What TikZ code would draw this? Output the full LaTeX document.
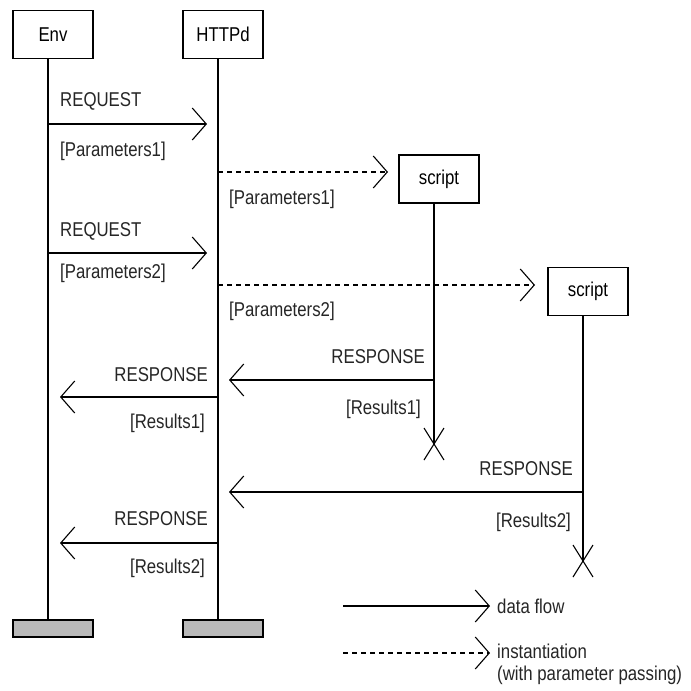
\documentclass[tikz,border=0pt]{standalone}
\usepackage{fontspec}
\setmainfont{Liberation Sans}[FakeStretch=0.84]
\usetikzlibrary{arrows.meta,calc}
\begin{document}
\begin{tikzpicture}[x=1pt,y=-1pt,
  lbl/.style={font=\fontsize{20}{22}\selectfont, inner sep=0pt, text=black!85},
  obj/.style={draw, line width=1.4pt, minimum width=80pt, minimum height=48pt,
    inner sep=0pt, font=\fontsize{20}{22}\selectfont},
  endbar/.style={draw, line width=1.4pt, fill=gray!55, minimum width=80pt,
    minimum height=17pt, inner sep=0pt},
  life/.style={line width=1.2pt},
  msg/.style={line width=1.3pt,
    -{Straight Barb[length=14pt,width=32pt,line width=1.1pt]}},
  inst/.style={msg, dash pattern=on 5pt off 4pt},
  kill/.style={line width=1.1pt}
]
\useasboundingbox[fill=white] (0,0) rectangle (691,691);

% objects
\node[obj] (env)   at (53,34.5)   {Env};
\node[obj] (httpd) at (223,34.5)  {HTTPd};
\node[obj] (scr1)  at (439,179)   {script};
\node[obj] (scr2)  at (588,291.5) {script};
\node[endbar] (envEnd)   at (53,628.5)  {};
\node[endbar] (httpdEnd) at (223,628.5) {};

% lifelines
\coordinate (envTop)   at (48,58.5);
\coordinate (envBot)   at (48,620);
\coordinate (httpdTop) at (218,58.5);
\coordinate (httpdBot) at (218,620);
\coordinate (s1Top)    at (434,203);
\coordinate (s1Kill)   at (434,444);
\coordinate (s2Top)    at (583,315.5);
\coordinate (s2Kill)   at (583,561);
\draw[life] (envTop) -- (envBot);
\draw[life] (httpdTop) -- (httpdBot);
\draw[life] (s1Top) -- (s1Kill);
\draw[life] (s2Top) -- (s2Kill);

% terminations
\draw[kill] ($(s1Kill)+(-10,-16)$) -- ($(s1Kill)+(10,16)$)
            ($(s1Kill)+(10,-16)$) -- ($(s1Kill)+(-10,16)$);
\draw[kill] ($(s2Kill)+(-10,-16)$) -- ($(s2Kill)+(10,16)$)
            ($(s2Kill)+(10,-16)$) -- ($(s2Kill)+(-10,16)$);

% messages
\coordinate (q1a) at (48,124);   \coordinate (q1b) at (207,124);
\coordinate (i1a) at (218,172);  \coordinate (i1b) at (388,172);
\coordinate (q2a) at (48,253);   \coordinate (q2b) at (207,253);
\coordinate (i2a) at (218,285);  \coordinate (i2b) at (535,285);
\coordinate (p1a) at (434,380);  \coordinate (p1b) at (229,380);
\coordinate (e1a) at (218,397);  \coordinate (e1b) at (60,397);
\coordinate (p2a) at (583,492);  \coordinate (p2b) at (229,492);
\coordinate (e2a) at (218,543);  \coordinate (e2b) at (60,543);
\draw[msg]  (q1a) -- (q1b);
\draw[inst] (i1a) -- (i1b);
\draw[msg]  (q2a) -- (q2b);
\draw[inst] (i2a) -- (i2b);
\draw[msg]  (p1a) -- (p1b);
\draw[msg]  (e1a) -- (e1b);
\draw[msg]  (p2a) -- (p2b);
\draw[msg]  (e2a) -- (e2b);

% message labels
\node[lbl, anchor=base west] (tq1) at (60,106)  {REQUEST};
\node[lbl, anchor=base west] (tp1) at (60,156)  {[Parameters1]};
\node[lbl, anchor=base west] (ti1) at (229,204) {[Parameters1]};
\node[lbl, anchor=base west] (tq2) at (60,236)  {REQUEST};
\node[lbl, anchor=base west] (tp2) at (60,278)  {[Parameters2]};
\node[lbl, anchor=base west] (ti2) at (229,316) {[Parameters2]};
\node[lbl, anchor=base east] (tr1) at (425,363) {RESPONSE};
\node[lbl, anchor=base east] (ts1) at (421,414) {[Results1]};
\node[lbl, anchor=base east] (tr2) at (208,381) {RESPONSE};
\node[lbl, anchor=base east] (ts2) at (205,428) {[Results1]};
\node[lbl, anchor=base east] (tr3) at (573,475) {RESPONSE};
\node[lbl, anchor=base east] (ts3) at (571,527) {[Results2]};
\node[lbl, anchor=base east] (tr4) at (208,525) {RESPONSE};
\node[lbl, anchor=base east] (ts4) at (205,573) {[Results2]};

% legend
\coordinate (lga) at (343,606); \coordinate (lgb) at (490,606);
\coordinate (lda) at (343,653); \coordinate (ldb) at (490,653);
\draw[msg]  (lga) -- (lgb);
\draw[inst] (lda) -- (ldb);
\node[lbl, anchor=base west] (lg1) at (497,613) {data flow};
\node[lbl, anchor=base west] (lg2) at (497,658) {instantiation};
\node[lbl, anchor=base west] (lg3) at (497,680) {(with parameter passing)};
\end{tikzpicture}
\end{document}
